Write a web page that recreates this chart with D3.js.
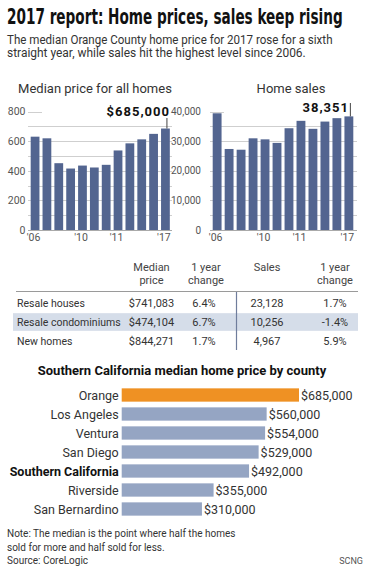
<!DOCTYPE html>
<html>
<head>
<meta charset="utf-8">
<script src="https://cdn.jsdelivr.net/npm/d3@7"></script>
<style>
  body { margin: 0; background: #fff; }
  svg { display: block; font-family: Roboto, "Noto Sans", sans-serif; }
</style>
</head>
<body>
<div id="chart"></div>
<script>
// ---- data ----
var years = ["2006","2007","2008","2009","2010","2011","2012","2013","2014","2015","2016","2017"];
var yearLabels = ["'06","","","","'10","","","'11","","","","'17"];
var priceValues = [630, 619, 451, 415, 435, 422, 440, 537, 585, 612, 649, 685];   // thousands
var salesValues = [39400, 27350, 27100, 30950, 30600, 29400, 34350, 36850, 34150, 36600, 37750, 38351];

var tableRows = ["Resale houses", "Resale condominiums", "New homes"];
var medianPrice = ["$741,083", "$474,104", "$844,271"];
var priceChange = ["6.4%", "6.7%", "1.7%"];
var salesCount = ["23,128", "10,256", "4,967"];
var salesChange = ["1.7%", "-1.4%", "5.9%"];

var counties = ["Orange", "Los Angeles", "Ventura", "San Diego", "Southern California", "Riverside", "San Bernardino"];
var countyPrices = [685000, 560000, 554000, 529000, 492000, 355000, 310000];

var W = 368, H = 570;
var barColor = "#536590";
var gridColor = "#cfcfcf";
var textColor = "#333";

var svg = d3.select("#chart").append("svg")
  .attr("width", W)
  .attr("height", H);

svg.append("rect").attr("width", W).attr("height", H).attr("fill", "#fff");

// squeeze a text horizontally so it spans the given width
function fitWidth(sel, x, y, width) {
  var len = sel.node().getComputedTextLength();
  var sx = Math.min(1.15, width / len);
  sel.attr("x", 0).attr("y", 0)
    .attr("transform", "translate(" + x + "," + y + ") scale(" + sx + ",1)");
}

// ---- header ----
var title = svg.append("text")
  .attr("font-family", "'Liberation Sans Narrow', 'DejaVu Sans Condensed', sans-serif")
  .attr("font-weight", "bold")
  .attr("font-size", 21.5)
  .attr("fill", "#111")
  .text("2017 report: Home prices, sales keep rising");
fitWidth(title, 7, 23.5, 336);

var sub1 = svg.append("text")
  .attr("font-size", 12.5).attr("fill", textColor)
  .text("The median Orange County home price for 2017 rose for a sixth");
fitWidth(sub1, 7, 43.5, 326);
var sub2 = svg.append("text")
  .attr("font-size", 12.5).attr("fill", textColor)
  .text("straight year, while sales hit the highest level since 2006.");
fitWidth(sub2, 7, 57, 299);

// ---- small bar charts ----
function smallChart(opts) {
  var g = svg.append("g");
  var x = d3.scaleBand().domain(years).range(opts.xRange).paddingInner(0.26).paddingOuter(0.1);
  var y = d3.scaleLinear().domain([0, opts.max]).range([230, 111.5]);

  g.append("text")
    .attr("x", opts.titleX).attr("y", 92.5)
    .attr("text-anchor", "middle")
    .attr("font-size", 13).attr("fill", textColor)
    .text(opts.title);

  // gridlines
  var gridTicks = d3.range(opts.gridStep, opts.max, opts.gridStep);
  g.selectAll(".grid").data(gridTicks).enter().append("line")
    .attr("x1", opts.gridX[0]).attr("x2", opts.gridX[1])
    .attr("y1", function(d) { return Math.round(y(d)) + 0.5; })
    .attr("y2", function(d) { return Math.round(y(d)) + 0.5; })
    .attr("stroke", gridColor).attr("stroke-width", 1);
  // short top tick line
  g.append("line")
    .attr("x1", opts.gridX[0]).attr("x2", opts.gridX[0] + 14)
    .attr("y1", Math.round(y(opts.max)) + 0.5).attr("y2", Math.round(y(opts.max)) + 0.5)
    .attr("stroke", gridColor);

  // y axis labels
  var yAxis = d3.axisLeft(y).tickValues(opts.labelTicks).tickSize(0).tickPadding(0)
    .tickFormat(opts.fmt);
  g.append("g")
    .attr("transform", "translate(" + opts.labelX + ",0)")
    .call(yAxis)
    .call(function(s) { s.select(".domain").remove(); })
    .selectAll("text")
    .attr("font-family", "Roboto, sans-serif")
    .attr("font-size", opts.labelSize).attr("fill", "#555");

  // bars
  g.selectAll(".bar").data(opts.values).enter().append("rect")
    .attr("x", function(d, i) { return x(years[i]); })
    .attr("width", x.bandwidth())
    .attr("y", function(d) { return y(d); })
    .attr("height", function(d) { return y(0) - y(d); })
    .attr("fill", barColor);

  // baseline
  g.append("line")
    .attr("x1", opts.gridX[0]).attr("x2", opts.gridX[1])
    .attr("y1", 230.5).attr("y2", 230.5)
    .attr("stroke", "#aaa");

  // x axis
  var xAxis = d3.axisBottom(x).tickSize(0).tickPadding(0)
    .tickFormat(function(d, i) { return yearLabels[i]; });
  g.append("g")
    .attr("transform", "translate(-1.5,234)")
    .call(xAxis)
    .call(function(s) { s.select(".domain").remove(); })
    .selectAll("text")
    .attr("font-family", "Roboto, sans-serif")
    .attr("font-size", 10.5).attr("fill", "#555");

  // annotation on last bar
  var last = opts.values.length - 1;
  var cx = x(years[last]) + x.bandwidth() / 2;
  g.append("text")
    .attr("x", opts.annoX).attr("y", opts.annoY)
    .attr("text-anchor", "end")
    .attr("font-weight", "bold").attr("font-size", 13)
    .attr("letter-spacing", 1)
    .attr("fill", "#111")
    .text(opts.anno);
  g.append("line")
    .attr("x1", cx + 1.5).attr("x2", cx + 1.5)
    .attr("y1", opts.annoLineTop).attr("y2", y(opts.values[last]))
    .attr("stroke", "#444");
}

smallChart({
  title: "Median price for all homes", titleX: 95,
  values: priceValues, max: 800, gridStep: 100,
  labelTicks: [0, 200, 400, 600, 800], fmt: d3.format("d"), labelSize: 10.5,
  xRange: [29.5, 171], gridX: [28, 172], labelX: 25.5,
  anno: "$685,000", annoX: 170, annoY: 115.5, annoLineTop: 118
});

smallChart({
  title: "Home sales", titleX: 291,
  values: salesValues, max: 40000, gridStep: 5000,
  labelTicks: [0, 10000, 20000, 30000, 40000], fmt: d3.format(","), labelSize: 10,
  xRange: [211.5, 354.5], gridX: [210, 357], labelX: 201,
  anno: "38,351", annoX: 349, annoY: 112, annoLineTop: 103
});

// ---- table ----
var colX = [151.5, 206, 267, 335];
var headers = [["Median", "price"], ["1 year", "change"], ["Sales", ""], ["1 year", "change"]];
var rowY = d3.scaleBand().domain(tableRows).range([294, 350]);

svg.append("rect")
  .attr("x", 13).attr("width", 345)
  .attr("y", rowY("Resale condominiums") + 0.5).attr("height", rowY.bandwidth() - 1)
  .attr("fill", "#d5dde9");

headers.forEach(function(h, i) {
  h.forEach(function(line, j) {
    svg.append("text")
      .attr("x", colX[i]).attr("y", 270.5 + j * 13.5)
      .attr("text-anchor", "middle")
      .attr("font-size", 11).attr("fill", "#444")
      .text(line);
  });
});

svg.append("line")
  .attr("x1", 16).attr("x2", 358).attr("y1", 291.5).attr("y2", 291.5)
  .attr("stroke", "#9a9a9a");
svg.append("line")
  .attr("x1", 236.5).attr("x2", 236.5).attr("y1", 292).attr("y2", 350)
  .attr("stroke", "#6f7d9c").attr("stroke-width", 1.2);

var cols = [medianPrice, priceChange, salesCount, salesChange];
tableRows.forEach(function(r, i) {
  var ty = rowY(r) + rowY.bandwidth() / 2 + 4;
  svg.append("text")
    .attr("x", 17).attr("y", ty)
    .attr("font-size", 10.5).attr("fill", textColor)
    .text(r);
  cols.forEach(function(c, k) {
    svg.append("text")
      .attr("x", colX[k] + (k === 1 ? -2 : 0)).attr("y", ty)
      .attr("text-anchor", "middle")
      .attr("font-size", 11).attr("fill", textColor)
      .text(c[i]);
  });
});

// ---- county bar chart ----
svg.append("text")
  .attr("x", 182).attr("y", 374.5)
  .attr("text-anchor", "middle")
  .attr("font-weight", "bold").attr("font-size", 13).attr("fill", "#111")
  .text("Southern California median home price by county");

var cx0 = 121.7;
var xc = d3.scaleLinear().domain([0, 685000]).range([cx0, 299]);
var yc = d3.scaleBand().domain(counties).range([385.5, 518.5]).paddingInner(0.3).paddingOuter(0.15);
var fmtMoney = d3.format("$,");

var rows = svg.append("g").selectAll("g").data(counties).enter().append("g");
rows.append("rect")
  .attr("x", xc(0))
  .attr("y", function(d) { return yc(d); })
  .attr("width", function(d, i) { return xc(countyPrices[i]) - xc(0); })
  .attr("height", yc.bandwidth())
  .attr("fill", function(d) { return d === "Orange" ? "#ef9123" : "#95a5c3"; });
rows.append("text")
  .attr("x", cx0 - 3)
  .attr("y", function(d) { return yc(d) + yc.bandwidth() / 2 + 4.5; })
  .attr("text-anchor", "end")
  .attr("font-size", 12.5)
  .attr("font-weight", function(d) { return d === "Southern California" ? "bold" : "normal"; })
  .attr("fill", function(d) { return d === "Southern California" ? "#111" : textColor; })
  .text(function(d) { return d; });
rows.append("text")
  .attr("x", function(d, i) { return xc(countyPrices[i]) + 2; })
  .attr("y", function(d) { return yc(d) + yc.bandwidth() / 2 + 4.5; })
  .attr("font-size", 12.5).attr("fill", textColor)
  .text(function(d, i) { return fmtMoney(countyPrices[i]); });

// ---- footer ----
var notes = ["Note: The median is the point where half the homes", "sold for more and half sold for less.", "Source: CoreLogic"];
notes.forEach(function(t, i) {
  svg.append("text")
    .attr("x", 7).attr("y", 537 + i * 13.5)
    .attr("font-size", 10).attr("fill", textColor)
    .text(t);
});
svg.append("text")
  .attr("x", 363).attr("y", 563.5)
  .attr("text-anchor", "end")
  .attr("font-size", 9).attr("fill", "#555")
  .text("SCNG");
</script>
</body>
</html>
